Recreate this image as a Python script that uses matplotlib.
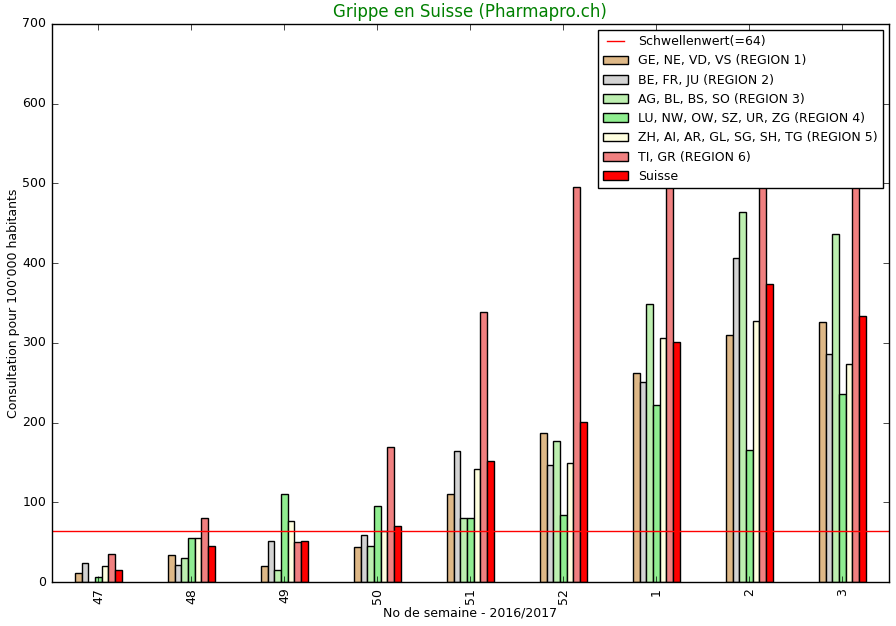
import pandas as pd
import matplotlib
matplotlib.use("Agg")
import matplotlib.pyplot as plt

plt.style.use("classic")

weeks = ["47", "48", "49", "50", "51", "52", "1", "2", "3"]
region1 = [11, 34, 20, 44, 111, 187, 262, 310, 326]
region2 = [24, 21, 52, 59, 164, 147, 251, 407, 286]
region3 = [0, 30, 15, 45, 81, 177, 349, 464, 437]
region4 = [6, 55, 110, 96, 80, 84, 222, 166, 236]
region5 = [20, 56, 77, 64, 142, 150, 306, 327, 274]
region6 = [35, 80, 50, 169, 339, 496, 560, 610, 590]
suisse = [15, 45, 51, 71, 152, 201, 301, 374, 334]
seuil = 64

labels = ["GE, NE, VD, VS (REGION 1)", "BE, FR, JU (REGION 2)",
          "AG, BL, BS, SO (REGION 3)", "LU, NW, OW, SZ, UR, ZG (REGION 4)",
          "ZH, AI, AR, GL, SG, SH, TG (REGION 5)", "TI, GR (REGION 6)", "Suisse"]
colors = ["burlywood", "lightgray", "#bdefb0", "lightgreen", "lightyellow", "lightcoral", "red"]

df = pd.DataFrame({labels[0]: region1, labels[1]: region2, labels[2]: region3,
                   labels[3]: region4, labels[4]: region5, labels[5]: region6,
                   labels[6]: suisse}, index=weeks)

fig = plt.figure(figsize=(8.96, 6.26), dpi=100)
ax = fig.add_axes([0.058, 0.07, 0.934, 0.892])
df.plot(kind="bar", ax=ax, color=colors, legend=False)
ax.axhline(seuil, color="red", label="Schwellenwert(=%d)" % seuil)
ax.set_ylim(0, 700)
ax.set_title("Grippe en Suisse (Pharmapro.ch)", color="green", fontsize=12)
ax.set_ylabel("Consultation pour 100'000 habitants", fontsize=9, labelpad=2)
ax.set_xlabel("No de semaine - 2016/2017", fontsize=9, labelpad=2)
ax.tick_params(labelsize=9)

# ligne du seuil en premier dans la legende
h, l = ax.get_legend_handles_labels()
i = l.index("Schwellenwert(=%d)" % seuil)
h = [h[i]] + h[:i] + h[i + 1:]
l = [l[i]] + l[:i] + l[i + 1:]
ax.legend(h, l, loc="upper right", fontsize=9)

fig.savefig("out.png", dpi=100)
